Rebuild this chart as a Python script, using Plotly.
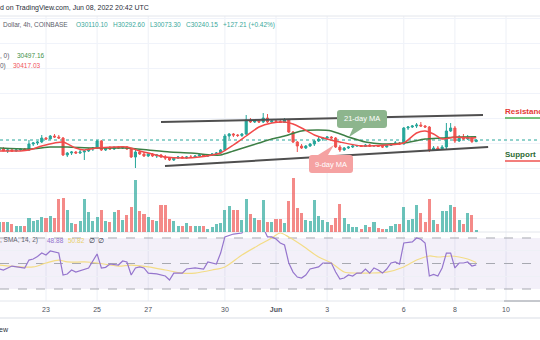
import plotly.graph_objects as go
import pandas as pd

W, H = 540, 340
FONT = "Liberation Sans, Arial, sans-serif"

# ---------------- data ----------------
candle_start = "2022-05-21 04:00"   # first 4h candle

opens = [29440, 29520, 29360, 29440, 29360, 29440, 29520, 29440, 29920, 30000,
         30080, 30400, 30320, 30560, 30480, 30400, 29040, 29200, 29280, 29200,
         29280, 29360, 29520, 29600, 30160, 29440, 29600, 29520, 29680, 29600,
         29680, 29520, 28880, 29280, 29120, 28960, 29120, 28960, 29040, 28880,
         28800, 28640, 28800, 28880, 28800, 28880, 28860, 28960, 29040, 28960,
         29040, 29120, 29200, 29440, 30560, 30720, 30640, 30600, 30720, 31840,
         31680, 31760, 31680, 32000, 31680, 31760, 31720, 31640, 31840, 30880,
         30080, 29760, 29600, 29760, 29920, 30160, 30320, 30400, 30480, 30400,
         29680, 29440, 29600, 29680, 29760, 29800, 29720, 29840, 29760, 29800,
         29720, 29680, 29800, 29920, 30000, 29920, 31200, 31280, 31360, 31440,
         31360, 31280, 29440, 29600, 29520, 29680, 30960, 31200, 30160, 30480,
         30320, 30400, 30110.10]
highs = [29600, 29680, 29520, 29520, 29520, 29600, 29600, 30240, 30080, 30160,
         30640, 30480, 30640, 30720, 30640, 30480, 29280, 29360, 29360, 29440,
         29440, 29600, 29680, 30240, 30240, 29680, 29760, 29680, 29760, 29760,
         29760, 29600, 29440, 29440, 29280, 29200, 29200, 29120, 29120, 29040,
         28880, 28880, 28960, 28960, 28960, 29040, 29040, 29120, 29120, 29120,
         29200, 29280, 29520, 30720, 30800, 30800, 30720, 30800, 32240, 32000,
         31840, 31920, 32400, 32320, 31840, 31920, 31920, 32000, 31920, 30960,
         30160, 29920, 29840, 30000, 30240, 30480, 30480, 30560, 30560, 30480,
         29840, 29680, 29760, 29840, 29840, 29840, 29920, 29920, 29840, 29840,
         29800, 29840, 30000, 30160, 30080, 31280, 31360, 31440, 31600, 31680,
         31440, 31360, 29760, 29760, 29840, 31600, 31600, 31360, 30640, 30720,
         30640, 30560, 30292.60]
lows = [29280, 29360, 29200, 29280, 29280, 29360, 29360, 29360, 29760, 29840,
        30000, 30240, 30320, 30400, 30320, 28960, 28880, 29040, 29120, 29120,
        28640, 29280, 29360, 29520, 29360, 29360, 29440, 29440, 29520, 29520,
        29440, 28800, 28000, 29040, 28880, 28880, 28880, 28800, 28800, 28640,
        28560, 28560, 28720, 28800, 28720, 28800, 28800, 28880, 28880, 28880,
        28960, 29040, 29120, 29360, 30320, 30480, 30480, 30480, 30640, 31600,
        31600, 31600, 31600, 31600, 31600, 31600, 31600, 31600, 30800, 30000,
        29280, 29520, 29520, 29680, 29760, 30080, 30160, 30240, 30320, 29600,
        29280, 29360, 29520, 29600, 29680, 29680, 29680, 29680, 29680, 29680,
        29600, 29640, 29760, 29840, 29840, 29880, 31040, 31200, 31200, 31280,
        31200, 29280, 29360, 29440, 29440, 29520, 30880, 30000, 30080, 30240,
        30240, 30000, 30073.30]
closes = [29520, 29360, 29440, 29360, 29440, 29520, 29440, 29920, 30000, 30080,
          30400, 30320, 30560, 30480, 30400, 29040, 29200, 29280, 29200, 29280,
          29360, 29520, 29600, 30160, 29440, 29600, 29520, 29680, 29600, 29680,
          29520, 28880, 29280, 29120, 28960, 29120, 28960, 29040, 28880, 28800,
          28640, 28800, 28880, 28800, 28880, 28860, 28960, 29040, 28960, 29040,
          29120, 29200, 29440, 30560, 30720, 30640, 30600, 30720, 31840, 31680,
          31760, 31680, 32000, 31680, 31760, 31720, 31640, 31840, 30880, 30080,
          29760, 29600, 29760, 29920, 30160, 30320, 30400, 30480, 30400, 29680,
          29440, 29600, 29680, 29760, 29800, 29720, 29840, 29760, 29800, 29720,
          29680, 29800, 29920, 30000, 29920, 31200, 31280, 31360, 31440, 31360,
          31280, 29440, 29600, 29520, 29680, 30960, 31200, 30160, 30480, 30320,
          30400, 30110.10, 30240.15]
volumes = [500, 500, 480, 400, 300, 310, 300, 700, 560, 600,
           760, 700, 800, 700, 1650, 1720, 1100, 450, 400, 550,
           1650, 1000, 550, 760, 1100, 550, 500, 1000, 1100, 600,
           850, 1250, 2600, 1050, 900, 760, 600, 550, 1350, 1350,
           650, 550, 300, 300, 450, 300, 300, 300, 300, 160,
           250, 400, 450, 1100, 1300, 1100, 1100, 600, 1650, 900,
           700, 600, 1600, 500, 500, 650, 650, 450, 1550, 2700,
           1200, 950, 600, 550, 1600, 800, 600, 500, 350, 700,
           1400, 700, 400, 250, 250, 150, 350, 250, 500, 200,
           150, 160, 300, 400, 400, 1250, 600, 650, 1350, 950,
           500, 1650, 600, 400, 1050, 1050, 1350, 1250, 600, 400,
           950, 850, 100]

# 9-day MA (red) and 21-day MA (green): candle index -> value
ma9_idx = [0, 5, 7, 10, 13, 15, 18, 20, 23, 27, 30, 33, 35, 39, 44, 47, 50, 52, 55, 58,
           61, 64, 67, 69, 71, 74, 77, 80, 85, 91, 95, 98, 100, 102, 104, 107, 110, 112]
ma9_vals = [29360, 29360, 29440, 29760, 30000, 30080, 29600, 29440, 29600, 29680, 29680,
            29360, 29200, 28880, 28800, 28880, 29040, 29200, 29840, 30560, 31280, 31600,
            31680, 31520, 31200, 30640, 30320, 30080, 29760, 29840, 30000, 30800, 30960,
            30720, 30320, 30480, 30400, 30417.03]
ma21_idx = [0, 7, 12, 16, 22, 30, 35, 40, 45, 50, 52, 55, 58, 61, 64, 67, 71, 75, 78, 82,
            86, 90, 95, 100, 104, 108, 112]
ma21_vals = [29600, 29520, 29680, 29680, 29600, 29600, 29440, 29280, 29200, 29040, 29040,
             29360, 29680, 30000, 30320, 30560, 30960, 31040, 30960, 30480, 30080, 29920,
             30000, 30320, 30400, 30480, 30497.16]

# RSI(14) and its SMA
rsi_idx = [0, 1, 3, 5, 6, 7, 8, 9, 10, 11, 12, 14, 15, 16, 17, 18, 20, 21, 23, 24, 25, 26,
           28, 29, 30, 31, 32, 33, 34, 35, 37, 39, 40, 41, 43, 44, 46, 47, 48, 49, 50, 51,
           52, 53, 55, 57, 58, 60, 62, 63, 64, 65, 66, 67, 68, 69, 70, 71, 72, 73, 75, 76,
           78, 79, 80, 81, 82, 83, 84, 85, 86, 87, 88, 89, 90, 91, 92, 93, 94, 95, 97, 98,
           99, 100, 101, 102, 103, 104, 105, 106, 107, 108, 109, 110, 111, 112]
rsi_vals = [45.7, 44.9, 48.0, 47.3, 46.5, 52.7, 53.5, 55.5, 58.2, 56.7, 59.8, 58.2, 41.0,
            41.8, 44.9, 43.3, 45.7, 46.5, 57.5, 46.5, 47.0, 49.6, 48.8, 52.0, 51.2, 41.0,
            46.5, 47.3, 46.5, 42.5, 41.8, 40.2, 37.1, 42.5, 42.5, 45.7, 46.5, 46.0, 45.7,
            51.2, 50.4, 49.6, 58.2, 70.8, 73.1, 73.9, 80.0, 80.5, 78.0, 70.8, 70.8, 69.2,
            66.1, 64.5, 50.4, 43.3, 39.4, 38.6, 41.0, 45.7, 47.3, 50.4, 50.4, 43.3, 37.8,
            38.6, 41.0, 40.2, 42.5, 42.5, 45.7, 42.5, 46.5, 44.9, 42.5, 45.7, 50.4, 51.2,
            49.6, 66.1, 66.9, 70.0, 69.0, 66.1, 40.2, 41.5, 40.2, 46.5, 58.2, 58.2, 46.5,
            50.4, 50.4, 51.2, 48.0, 48.88]
rsisma_idx = [0, 8, 11, 14, 16, 20, 23, 28, 31, 35, 39, 43, 46, 50, 53, 57, 61, 64, 66, 68,
              71, 75, 78, 81, 84, 87, 91, 95, 98, 101, 103, 106, 108, 110, 112]
rsisma_vals = [48.8, 47.3, 50.4, 52.7, 51.2, 51.2, 50.4, 48.0, 48.8, 47.3, 44.9, 42.5, 42.5,
               44.9, 47.3, 56.7, 64.5, 70.0, 73.9, 70.8, 64.5, 55.1, 50.4, 43.3, 42.5, 42.5,
               43.3, 47.3, 52.7, 55.9, 55.1, 55.9, 55.1, 53.5, 50.82]

# channel trend lines drawn on the chart
upper_t = ["2022-05-27 12:00", "2022-06-09 02:24"]
upper_p = [31680, 32240]
lower_t = ["2022-05-27 15:45", "2022-06-09 07:12"]
lower_p = [28160, 29680]

tick_dates = ["2022-05-23", "2022-05-25", "2022-05-27", "2022-05-30", "2022-06-01",
              "2022-06-03", "2022-06-06", "2022-06-08", "2022-06-10"]
tick_text = ["23", "25", "27", "30", "<b>Jun</b>", "3", "6", "8", "10"]

title_text = "d on TradingView.com, Jun 08, 2022 20:42 UTC"
symbol_text = "Dollar, 4h, COINBASE"
ohlc_texts = ["O30110.10", "H30292.60", "L30073.30", "C30240.15", "+127.21 (+0.42%)"]
last_close = 30240.15

# ---------------- helpers ----------------
def px(x):
    return x / W

def py(y):
    return 1 - y / H

def pt(x, y):
    return f"{px(x):.5f},{py(y):.5f}"

times = pd.date_range(candle_start, periods=len(closes), freq="4h")
UP, DN = "#26a69a", "#ef5350"

fig = go.Figure()

vol_colors = ["rgba(38,166,154,0.68)" if c >= o else "rgba(239,83,80,0.68)"
              for o, c in zip(opens, closes)]
fig.add_trace(go.Bar(x=times, y=volumes, yaxis="y2", marker_color=vol_colors,
                     marker_line_width=0, width=4 * 3600 * 1000 * 0.72))

fig.add_trace(go.Candlestick(
    x=times, open=opens, high=highs, low=lows, close=closes,
    increasing=dict(line=dict(color=UP, width=1), fillcolor=UP),
    decreasing=dict(line=dict(color=DN, width=1), fillcolor=DN),
    whiskerwidth=0, yaxis="y"))

fig.add_trace(go.Scatter(x=times[ma21_idx], y=ma21_vals, mode="lines", yaxis="y",
                         line=dict(color="#3d7f45", width=1.5, shape="spline", smoothing=0.6)))
fig.add_trace(go.Scatter(x=times[ma9_idx], y=ma9_vals, mode="lines", yaxis="y",
                         line=dict(color="#f24a4a", width=1.5, shape="spline", smoothing=0.6)))

fig.add_trace(go.Scatter(x=times[rsisma_idx], y=rsisma_vals, mode="lines", yaxis="y3",
                         line=dict(color="#f3dc86", width=1.2, shape="spline", smoothing=0.8)))
fig.add_trace(go.Scatter(x=times[rsi_idx], y=rsi_vals, mode="lines", yaxis="y3",
                         line=dict(color="#9575cd", width=1.2)))

shapes = []
# vertical grid lines
for d in tick_dates:
    shapes.append(dict(type="line", xref="x", yref="paper", x0=d, x1=d,
                       y0=py(301), y1=py(16), line=dict(color="#edf0f6", width=1),
                       layer="below"))
# pane borders
for yy, col, wd in [(16, "#e3e6ec", 1), (232, "#e3e6ec", 1), (301, "#e3e6ec", 1),
                    (318, "#eceef2", 2)]:
    shapes.append(dict(type="line", xref="paper", yref="paper", x0=0, x1=1,
                       y0=py(yy), y1=py(yy), line=dict(color=col, width=wd), layer="below"))
shapes.append(dict(type="line", xref="paper", yref="paper", x0=px(504), x1=1,
                   y0=py(301), y1=py(301), line=dict(color="#9a9da6", width=1)))
# RSI band and levels
shapes.append(dict(type="rect", xref="paper", yref="y3", x0=0, x1=1, y0=30, y1=70,
                   fillcolor="rgba(126,87,194,0.09)", line=dict(width=0), layer="below"))
for lv in (30, 50, 70):
    shapes.append(dict(type="line", xref="paper", yref="y3", x0=0, x1=1, y0=lv, y1=lv,
                       line=dict(color="#a7a9b1", width=1, dash="dash"), layer="below"))
# last price line
shapes.append(dict(type="line", xref="paper", yref="y", x0=0, x1=1,
                   y0=last_close, y1=last_close,
                   line=dict(color="#26a69a", width=1, dash="dot"), layer="below"))
# channel lines
shapes.append(dict(type="line", xref="x", yref="y", x0=upper_t[0], x1=upper_t[1],
                   y0=upper_p[0], y1=upper_p[1], line=dict(color="#4f4f4f", width=2)))
shapes.append(dict(type="line", xref="x", yref="y", x0=lower_t[0], x1=lower_t[1],
                   y0=lower_p[0], y1=lower_p[1], line=dict(color="#4f4f4f", width=2)))
# resistance / support underlines
shapes.append(dict(type="line", xref="paper", yref="paper", x0=px(505), x1=1,
                   y0=py(118), y1=py(118), line=dict(color="#4caf50", width=1.5)))
shapes.append(dict(type="line", xref="paper", yref="paper", x0=px(505), x1=1,
                   y0=py(161), y1=py(161), line=dict(color="#ef5350", width=1.5)))


def callout(x0, y0, x1, y1, r, side, bl, br, tx, ty):
    p = [f"M{pt(x0 + r, y0)}"]
    if side == "top":
        p += [f"L{pt(bl, y0)}", f"L{pt(tx, ty)}", f"L{pt(br, y0)}"]
    p += [f"L{pt(x1 - r, y0)}", f"Q{pt(x1, y0)} {pt(x1, y0 + r)}",
          f"L{pt(x1, y1 - r)}", f"Q{pt(x1, y1)} {pt(x1 - r, y1)}"]
    if side == "bottom":
        p += [f"L{pt(br, y1)}", f"L{pt(tx, ty)}", f"L{pt(bl, y1)}"]
    p += [f"L{pt(x0 + r, y1)}", f"Q{pt(x0, y1)} {pt(x0, y1 - r)}",
          f"L{pt(x0, y0 + r)}", f"Q{pt(x0, y0)} {pt(x0 + r, y0)}", "Z"]
    return " ".join(p)


shapes.append(dict(type="path", xref="paper", yref="paper",
                   path=callout(337, 110, 387, 128, 3, "bottom", 353, 363, 349, 137),
                   fillcolor="#8db58d", line=dict(width=0)))
shapes.append(dict(type="path", xref="paper", yref="paper",
                   path=callout(309, 155, 353, 173, 3, "top", 318, 328, 334, 145),
                   fillcolor="#f5a2a2", line=dict(width=0)))

ann = []


def txt(x, y, s, color, size=6.5, anchor="left", bold=False):
    ann.append(dict(x=px(x), y=py(y), xref="paper", yref="paper", text=(f"<b>{s}</b>" if bold else s),
                    showarrow=False, xanchor=anchor, yanchor="middle",
                    font=dict(family=FONT, size=size, color=color), borderpad=0))


txt(-1, 8, title_text, "#2a2e39", 7)
txt(2, 25, symbol_text, "#5d606b")
ohlc_x = [75, 112, 149, 185, 222]
for xx, s in zip(ohlc_x, ohlc_texts):
    txt(xx, 25, s, "#3aa99b")
txt(-1, 56, ", 0)", "#5d606b")
txt(16, 56, "30497.16", "#43914a")
txt(-1, 66, "0)", "#5d606b")
txt(12, 66, "30417.03", "#f0535a")
txt(-1, 240, ", SMA, 14, 2)", "#5d606b")
txt(46, 240, "48.88", "#9575cd")
txt(67, 240, "50.82", "#e8cf6a")
txt(88, 240, "\u2205", "#2a2e39")
txt(97, 240, "\u2205", "#2a2e39")
txt(504, 112, "Resistance", "#e53935", 8, bold=True)
txt(504, 155, "Support", "#2e6b34", 8, bold=True)
txt(362, 119, "21-day MA", "#ffffff", 7.5, anchor="center")
txt(331, 164, "9-day MA", "#ffffff", 7.5, anchor="center")
txt(-2, 329, "ew", "#2a2e39", 7)

fig.update_layout(
    width=W, height=H, margin=dict(l=0, r=0, t=0, b=0),
    paper_bgcolor="white", plot_bgcolor="rgba(0,0,0,0)", showlegend=False,
    shapes=shapes, annotations=ann, bargap=0,
    xaxis=dict(type="date", range=["2022-05-21 04:48", "2022-06-11 07:55"], domain=[0, 1],
               anchor="y3", showgrid=False, zeroline=False, showline=False, ticks="",
               tickvals=tick_dates, ticktext=tick_text, ticklabelstandoff=3,
               tickfont=dict(family=FONT, size=7, color="#50535e"),
               rangeslider=dict(visible=False)),
    yaxis=dict(domain=[py(232), py(16)], range=[22880, 40160], showticklabels=False,
               showgrid=True, gridcolor="#f0f3fa", tick0=0, dtick=2000, zeroline=False),
    yaxis2=dict(overlaying="y", range=[0, 10800], showticklabels=False, showgrid=False,
                zeroline=False),
    yaxis3=dict(domain=[py(301), py(232)], range=[20.6, 74.7], showticklabels=False,
                tickvals=[40, 60], showgrid=True, gridcolor="#eef0f6", zeroline=False),
)

fig.write_html("out.html")
